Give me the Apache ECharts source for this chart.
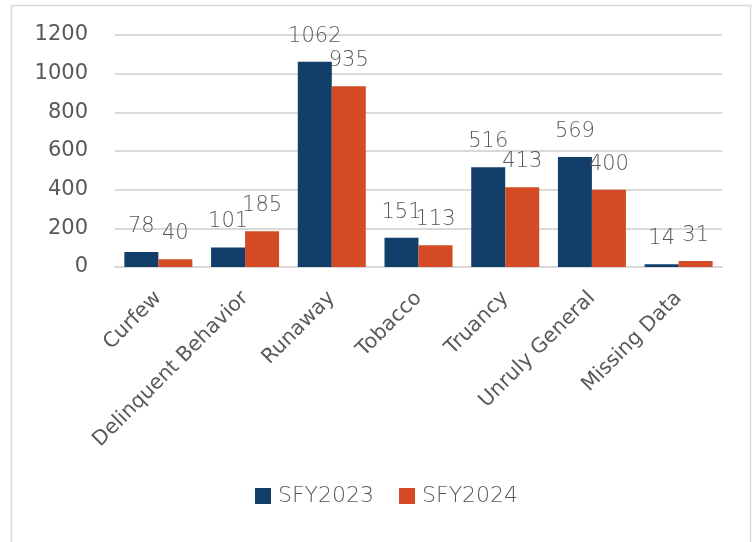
<!DOCTYPE html>
<html><head><meta charset="utf-8">
<script src="https://cdn.jsdelivr.net/npm/echarts@6/dist/echarts.min.js"></script>
<style>html,body{margin:0;padding:0;background:#fff}#c{width:755px;height:542px}</style>
</head><body><div id="c"></div>
<script>
const categories = ['Curfew','Delinquent Behavior','Runaway','Tobacco','Truancy','Unruly General','Missing Data'];
const sfy2023 = [78,101,1062,151,516,569,14];
const sfy2024 = [40,185,935,113,413,400,31];
const yTicks = [0,200,400,600,800,1000,1200];
const seriesNames = ['SFY2023','SFY2024'];

const chart = echarts.init(document.getElementById('c'), null, {renderer:'canvas'});
const FONT = '"DejaVu Sans"';
const labelStyle = {show:true, position:'top', distance:15, color:'#595959', fontFamily:FONT, fontWeight:200, fontSize:21};
chart.setOption({
  animation:false,
  graphic:[{type:'rect', shape:{x:11.5,y:5.5,width:739,height:545}, style:{fill:'none', stroke:'#d9d9d9', lineWidth:1.5}}],
  grid:{left:115, right:33, top:35, bottom:275, containLabel:false},
  legend:{bottom:30, left:250, itemWidth:16, itemHeight:16, itemGap:25, icon:'rect',
    textStyle:{color:'#595959', fontFamily:FONT, fontWeight:200, fontSize:22, padding:[0,0,0,2]},
    data:seriesNames},
  xAxis:{type:'category', data:categories,
    axisLine:{lineStyle:{color:'#d9d9d9', width:2}}, axisTick:{show:false},
    axisLabel:{rotate:45, interval:0, margin:28, color:'#595959', fontFamily:FONT, fontSize:20.5}},
  yAxis:{type:'value', min:yTicks[0], max:yTicks[yTicks.length-1], interval:200,
    axisLine:{show:false}, axisTick:{show:false},
    splitLine:{lineStyle:{color:'#d9d9d9', width:2}},
    axisLabel:{margin:27, color:'#595959', fontFamily:FONT, fontSize:21, formatter:v=>String(v)}},
  series:[
    {name:seriesNames[0], type:'bar', data:sfy2023, barWidth:34, barGap:'0%', itemStyle:{color:'#113f69'}, label:labelStyle},
    {name:seriesNames[1], type:'bar', data:sfy2024, barWidth:34, itemStyle:{color:'#d44a25'}, label:labelStyle}
  ]
});
</script></body></html>
